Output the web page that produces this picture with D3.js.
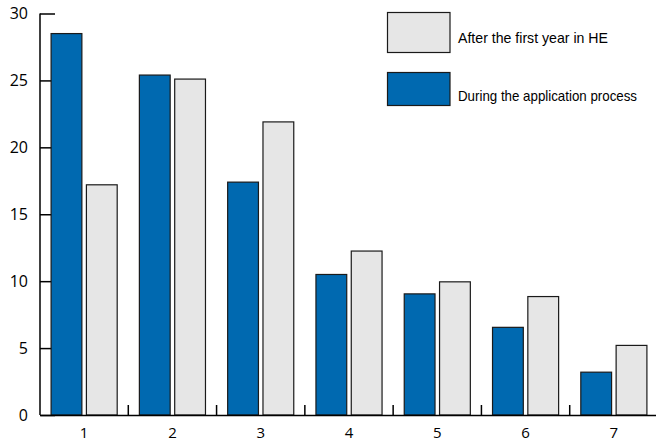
<!DOCTYPE html>
<html><head><meta charset="utf-8">
<script src="https://cdn.jsdelivr.net/npm/d3@7"></script>
<style>body{margin:0;background:#fff;} svg{display:block;}</style>
</head><body>
<script>
const categories = ["1","2","3","4","5","6","7"];
const seriesNames = ["During the application process","After the first year in HE"];
const during = [28.5, 25.4, 17.4, 10.5, 9.05, 6.55, 3.2];
const after  = [17.2, 25.1, 21.9, 12.25, 9.95, 8.85, 5.2];
const yTicks = [0,5,10,15,20,25,30];
const colors = ["#0069b0","#e6e6e6"];

const W=656,H=443;
const svg=d3.select("body").append("svg").attr("width",W).attr("height",H);
const font="'Liberation Sans',Arial,sans-serif";
const numFont="'Open Sans','DejaVu Sans',sans-serif";

const x=d3.scaleBand().domain(categories).range([40,658]).paddingInner(0).paddingOuter(0);
const xs=d3.scaleBand().domain([0,1]).range([0,x.bandwidth()]).paddingInner(0.1).paddingOuter(0.3);
const y=d3.scaleLinear().domain([0,30]).range([415,13.5]);

// y axis
const ya=svg.append("g").attr("transform","translate(40,0)")
 .call(d3.axisRight(y).tickValues(yTicks).tickSize(15).tickFormat(d3.format("d")));
ya.select(".domain").attr("stroke","#000").attr("stroke-width",1.5).attr("d",`M0,${y(30)}V${y(0)}`);
ya.selectAll(".tick line").attr("stroke","#000").attr("stroke-width",1.5);
ya.selectAll(".tick text").attr("x",-12).attr("text-anchor","end")
 .attr("font-family",numFont).attr("font-size",16).attr("fill","#000");

const data=categories.map((c,i)=>({c,vals:[during[i],after[i]]}));
const g=svg.append("g");
g.selectAll("g.grp").data(data).join("g").attr("class","grp")
 .attr("transform",d=>`translate(${x(d.c)},0)`)
 .selectAll("rect").data(d=>d.vals.map((v,k)=>({v,k}))).join("rect")
 .attr("x",d=>xs(d.k)+0.5).attr("width",xs.bandwidth()-1)
 .attr("y",d=>y(d.v)).attr("height",d=>y(0)-y(d.v))
 .attr("fill",d=>colors[d.k]).attr("stroke","#1a1a1a").attr("stroke-width",1.2);

// x axis
const xa=svg.append("g").attr("transform","translate(0,415)")
 .call(d3.axisBottom(x).tickSize(0).tickPadding(14));
xa.select(".domain").attr("stroke","#000").attr("stroke-width",1.5);
xa.selectAll(".tick text").attr("font-family",numFont).attr("font-size",15).attr("fill","#000")
 .attr("dy","0.6em");
xa.selectAll("line.sep").data(categories.slice(1)).join("line").attr("class","sep")
 .attr("x1",d=>x(d)).attr("x2",d=>x(d)).attr("y1",0).attr("y2",-10).attr("stroke","#000").attr("stroke-width",1.5);

// legend
const leg=svg.append("g");
const legItems=[{name:seriesNames[1],c:colors[1],y:12.5,h:40,ty:43,len:150},
                {name:seriesNames[0],c:colors[0],y:72.5,h:33,ty:101,len:179}];
leg.selectAll("rect").data(legItems).join("rect")
 .attr("x",387.5).attr("y",d=>d.y).attr("width",62.5).attr("height",d=>d.h)
 .attr("fill",d=>d.c).attr("stroke","#1a1a1a").attr("stroke-width",1.2);
leg.selectAll("text").data(legItems).join("text")
 .attr("x",458).attr("y",d=>d.ty).text(d=>d.name)
 .attr("textLength",d=>d.len).attr("lengthAdjust","spacingAndGlyphs")
 .attr("font-family",font).attr("font-size",14.5).attr("fill","#000");
</script>
</body></html>
